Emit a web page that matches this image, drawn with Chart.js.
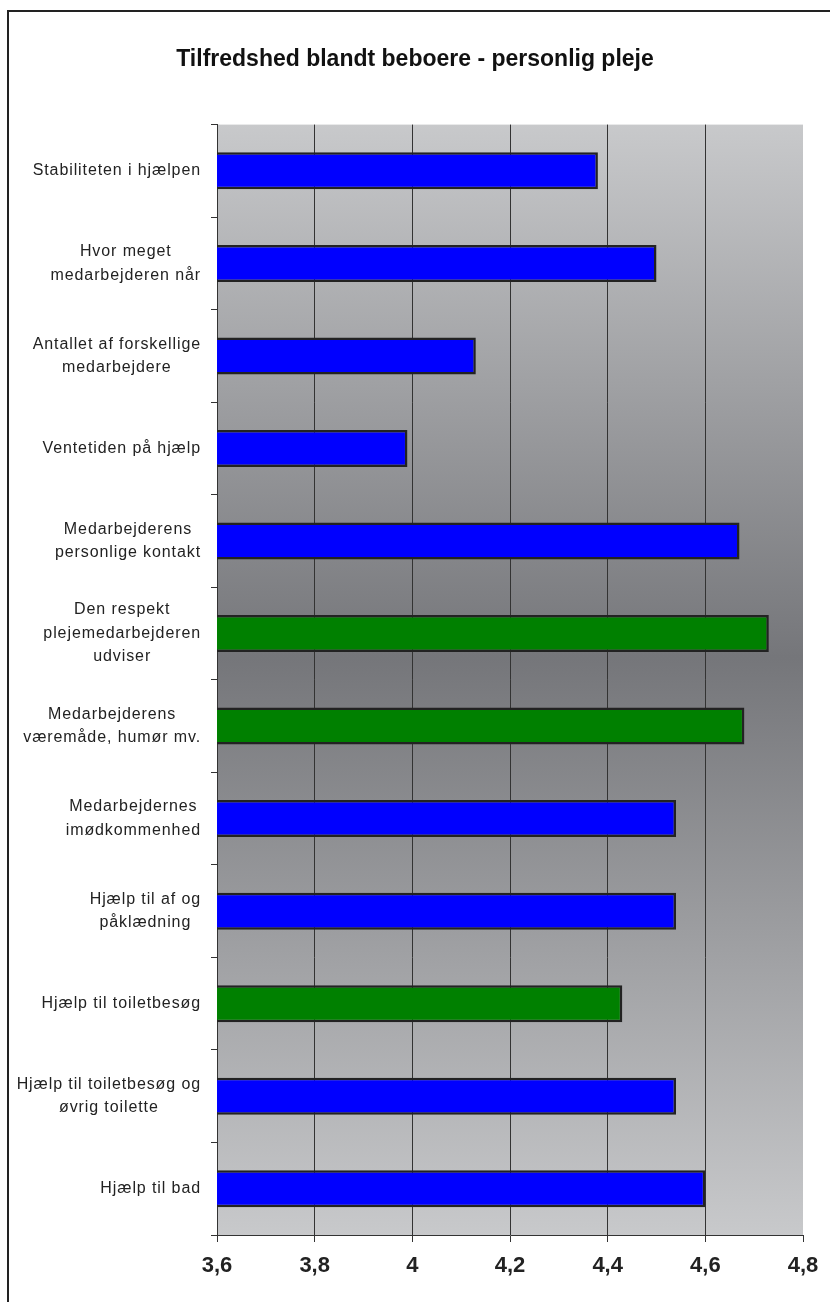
<!DOCTYPE html>
<html>
<head>
<meta charset="utf-8">
<script src="https://cdn.jsdelivr.net/npm/chart.js@4/dist/chart.umd.min.js"></script>
<style>
  html, body { margin: 0; padding: 0; background: #fff; overflow: hidden; }
  #wrap { position: relative; width: 830px; height: 1302px; }
  #frame {
    position: absolute; left: 7px; top: 10px; width: 840px; height: 1310px;
    border-left: 2px solid #222; border-top: 2px solid #222;
  }
  canvas { position: absolute; left: 0; top: 0; }
</style>
</head>
<body>
<div id="wrap">
  <div id="frame"></div>
  <canvas id="chart" width="830" height="1302"></canvas>
</div>
<script>
// categories (one entry per bar, split into the lines shown on the chart)
const categories = [
  ["Stabiliteten i hjælpen"],
  ["Hvor meget", "medarbejderen når"],
  ["Antallet af forskellige", "medarbejdere"],
  ["Ventetiden på hjælp"],
  ["Medarbejderens", "personlige kontakt"],
  ["Den respekt", "plejemedarbejderen", "udviser"],
  ["Medarbejderens", "væremåde, humør mv."],
  ["Medarbejdernes", "imødkommenhed"],
  ["Hjælp til af og", "påklædning"],
  ["Hjælp til toiletbesøg"],
  ["Hjælp til toiletbesøg og", "øvrig toilette"],
  ["Hjælp til bad"],
];
const values = [4.38, 4.50, 4.13, 3.99, 4.67, 4.73, 4.68, 4.54, 4.54, 4.43, 4.54, 4.60];
const barGroup = ["b", "b", "b", "b", "b", "g", "g", "b", "b", "g", "b", "b"];
const xTicks = [3.6, 3.8, 4.0, 4.2, 4.4, 4.6, 4.8];

const groupColors = { b: "#0000ff", g: "#008000" };

// gray gradient behind the plot
const plotBackground = {
  id: "plotBackground",
  beforeDraw(chart) {
    const { ctx, chartArea: a } = chart;
    const g = ctx.createLinearGradient(0, a.top, 0, a.bottom);
    g.addColorStop(0, "#c8c9cb");
    g.addColorStop(0.48, "#75767a");
    g.addColorStop(1, "#c8c9cb");
    ctx.save();
    ctx.fillStyle = g;
    ctx.fillRect(a.left, a.top, a.right - a.left, a.bottom - a.top);
    ctx.restore();
  },
};

// category labels, each block centred on its widest line
const categoryLabels = {
  id: "categoryLabels",
  afterDraw(chart) {
    const { ctx } = chart;
    const y = chart.scales.y;
    const right = chart.chartArea.left - 16;
    ctx.save();
    ctx.font = "16px 'Liberation Sans', Arial, sans-serif";
    ctx.letterSpacing = "0.9px";
    ctx.fillStyle = "#222";
    ctx.textAlign = "center";
    ctx.textBaseline = "middle";
    categories.forEach((lines, i) => {
      const widest = Math.max(...lines.map((l) => ctx.measureText(l).width));
      const cx = right - widest / 2;
      const cy = y.getPixelForTick(i);
      lines.forEach((line, j) => {
        ctx.fillText(line, cx, cy + (j - (lines.length - 1) / 2) * 23.5);
      });
    });
    ctx.restore();
  },
};

const ctxChart = document.getElementById("chart").getContext("2d");
new Chart(ctxChart, {
  type: "bar",
  data: {
    labels: categories.map((c) => c.join(" ")),
    datasets: [
      {
        data: values,
        backgroundColor: barGroup.map((g) => groupColors[g]),
        borderColor: "#222",
        borderWidth: 2.5,
        borderSkipped: false,
        barPercentage: 0.4,
        categoryPercentage: 1,
      },
    ],
  },
  options: {
    indexAxis: "y",
    responsive: false,
    animation: false,
    layout: { padding: { left: 27, right: 27, top: 0, bottom: 0 } },
    plugins: {
      legend: { display: false },
      tooltip: { enabled: false },
      title: {
        display: true,
        text: "Tilfredshed blandt beboere - personlig pleje",
        color: "#111",
        font: { family: "'Liberation Sans', Arial, sans-serif", size: 23, weight: "bold" },
        padding: { top: 46, bottom: 51 },
      },
    },
    scales: {
      x: {
        min: xTicks[0],
        max: xTicks[xTicks.length - 1],
        afterBuildTicks: (s) => { s.ticks = xTicks.map((v) => ({ value: v })); },
        afterFit: (s) => { s.height = 67; },
        ticks: {
          color: "#222",
          padding: 11,
          font: { family: "'Liberation Sans', Arial, sans-serif", size: 22, weight: "bold" },
          callback: (v) => v.toFixed(1).replace(/\.0$/, "").replace(".", ","),
        },
        grid: {
          color: (c) => (c.tick && Math.abs(c.tick.value - 4.8) < 1e-6 ? "rgba(0,0,0,0)" : "#333"),
          tickColor: "#333",
          tickLength: 7,
          lineWidth: 1,
        },
        border: { color: "#333", width: 1 },
      },
      y: {
        afterFit: (s) => { s.width = 190; },
        ticks: { display: false },
        grid: { drawOnChartArea: false, tickColor: "#333", tickLength: 6 },
        border: { color: "#333", width: 1 },
      },
    },
  },
  plugins: [plotBackground, categoryLabels],
});
</script>
</body>
</html>
